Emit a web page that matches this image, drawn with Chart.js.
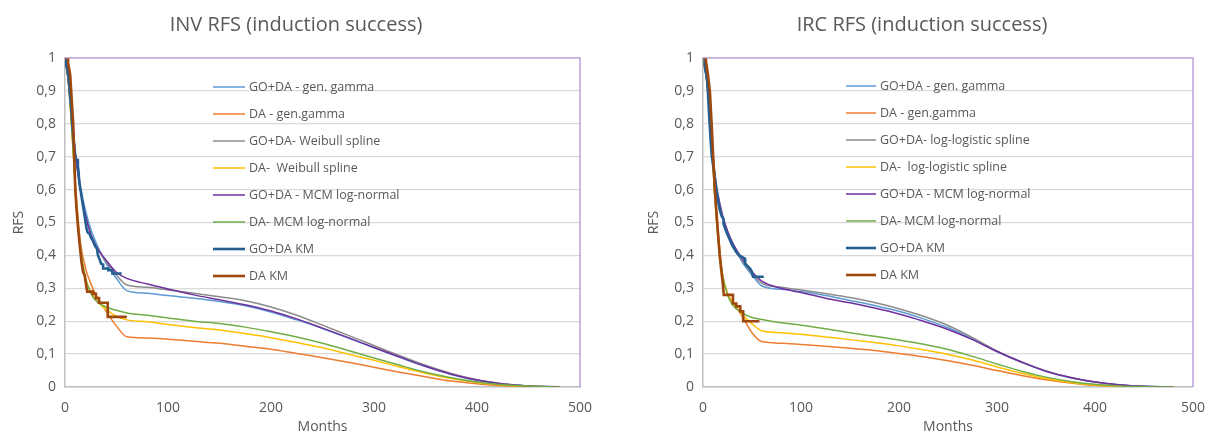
<!DOCTYPE html>
<html>
<head>
<meta charset="utf-8">
<script src="https://cdn.jsdelivr.net/npm/chart.js@4.4.1/dist/chart.umd.min.js"></script>
<style>
  body { margin: 0; background: #fff; }
  #wrap { position: relative; width: 1210px; height: 436px; }
  .box { position: absolute; top: 0; width: 605px; height: 436px; }
</style>
</head>
<body>
<div id="wrap">
  <div class="box" style="left:0"><canvas id="invChart"></canvas></div>
  <div class="box" style="left:605px"><canvas id="ircChart"></canvas></div>
</div>
<script>
const months = [0, 2.5, 5, 7.5, 10, 12.5, 15, 20, 25, 30, 40, 50, 60, 80, 100, 125, 150, 175, 200, 225, 250, 275, 300, 325, 350, 375, 400, 425, 450, 480];
const yTickLabels = ["0", "0,1", "0,2", "0,3", "0,4", "0,5", "0,6", "0,7", "0,8", "0,9", "1"];

// INV chart
const invGoGamma = [1, 0.95, 0.88, 0.8, 0.72, 0.66, 0.61, 0.535, 0.48, 0.44, 0.375, 0.33, 0.293, 0.285, 0.278, 0.27, 0.26, 0.247, 0.228, 0.204, 0.178, 0.149, 0.119, 0.09, 0.062, 0.038, 0.02, 0.009, 0.003, 0];
const invDaGamma = [1, 0.95, 0.86, 0.74, 0.62, 0.52, 0.44, 0.36, 0.315, 0.28, 0.23, 0.185, 0.153, 0.149, 0.145, 0.139, 0.133, 0.124, 0.115, 0.102, 0.089, 0.075, 0.06, 0.045, 0.031, 0.018, 0.01, 0.004, 0.001, 0];
const invGoWeib = [1, 0.95, 0.89, 0.8, 0.71, 0.65, 0.6, 0.52, 0.465, 0.43, 0.38, 0.34, 0.31, 0.303, 0.295, 0.285, 0.274, 0.262, 0.243, 0.218, 0.188, 0.157, 0.126, 0.095, 0.066, 0.041, 0.022, 0.01, 0.003, 0];
const invDaWeib = [1, 0.95, 0.86, 0.74, 0.6, 0.5, 0.42, 0.33, 0.29, 0.265, 0.235, 0.215, 0.204, 0.198, 0.19, 0.181, 0.173, 0.162, 0.15, 0.135, 0.119, 0.1, 0.081, 0.061, 0.042, 0.026, 0.014, 0.006, 0.002, 0];
const invGoMcm = [1, 0.95, 0.89, 0.8, 0.71, 0.65, 0.6, 0.52, 0.465, 0.43, 0.385, 0.348, 0.33, 0.313, 0.298, 0.28, 0.265, 0.25, 0.231, 0.207, 0.179, 0.15, 0.12, 0.091, 0.063, 0.039, 0.021, 0.009, 0.003, 0.001];
const invDaMcm = [1, 0.95, 0.87, 0.74, 0.6, 0.5, 0.42, 0.33, 0.285, 0.262, 0.243, 0.233, 0.225, 0.218, 0.21, 0.2, 0.193, 0.182, 0.168, 0.152, 0.133, 0.111, 0.088, 0.066, 0.045, 0.028, 0.015, 0.007, 0.003, 0];
const invGoKmX = [0, 1, 1, 2, 3, 4, 5, 6, 7, 8, 9, 10, 11, 12.5, 12.5, 13, 14, 15, 17, 19, 20, 21, 22, 24, 25, 27, 29, 31, 32, 34, 35, 37, 37, 42, 42, 46, 46, 55];
const invGoKmY = [1, 1, 0.98, 0.97, 0.95, 0.92, 0.88, 0.85, 0.8, 0.76, 0.72, 0.7, 0.69, 0.69, 0.67, 0.66, 0.62, 0.6, 0.56, 0.52, 0.5, 0.48, 0.47, 0.465, 0.455, 0.445, 0.43, 0.42, 0.4, 0.385, 0.375, 0.372, 0.36, 0.36, 0.355, 0.355, 0.345, 0.345];
const invDaKmX = [0, 3, 3, 5, 6, 8, 9, 10, 11, 12.5, 14, 16, 17.5, 19, 20, 21.5, 27, 27, 30, 30, 33, 33, 41.5, 41.5, 60];
const invDaKmY = [1, 1, 0.985, 0.95, 0.9, 0.8, 0.7, 0.6, 0.55, 0.49, 0.44, 0.38, 0.35, 0.34, 0.32, 0.29, 0.29, 0.283, 0.283, 0.27, 0.27, 0.256, 0.256, 0.213, 0.213];

// IRC chart
const ircGoGamma = [1, 0.96, 0.9, 0.8, 0.71, 0.64, 0.59, 0.52, 0.47, 0.435, 0.38, 0.34, 0.307, 0.297, 0.29, 0.278, 0.263, 0.248, 0.23, 0.207, 0.18, 0.146, 0.108, 0.075, 0.048, 0.028, 0.015, 0.006, 0.002, 0];
const ircDaGamma = [1, 0.96, 0.9, 0.8, 0.69, 0.58, 0.49, 0.34, 0.285, 0.26, 0.215, 0.165, 0.138, 0.133, 0.129, 0.124, 0.118, 0.111, 0.102, 0.092, 0.08, 0.066, 0.05, 0.035, 0.022, 0.012, 0.005, 0.002, 0.001, 0];
const ircGoLogl = [1, 0.96, 0.9, 0.8, 0.71, 0.64, 0.59, 0.52, 0.47, 0.437, 0.385, 0.345, 0.315, 0.303, 0.295, 0.284, 0.272, 0.257, 0.238, 0.215, 0.187, 0.15, 0.11, 0.076, 0.049, 0.029, 0.015, 0.006, 0.002, 0];
const ircDaLogl = [1, 0.96, 0.9, 0.8, 0.68, 0.56, 0.46, 0.34, 0.285, 0.255, 0.22, 0.192, 0.171, 0.165, 0.16, 0.152, 0.144, 0.135, 0.125, 0.113, 0.099, 0.082, 0.061, 0.042, 0.026, 0.014, 0.006, 0.002, 0.001, 0];
const ircGoMcm = [1, 0.96, 0.9, 0.79, 0.7, 0.63, 0.585, 0.52, 0.475, 0.44, 0.39, 0.35, 0.322, 0.3, 0.287, 0.27, 0.256, 0.24, 0.222, 0.2, 0.175, 0.144, 0.108, 0.076, 0.048, 0.029, 0.015, 0.007, 0.002, 0];
const ircDaMcm = [1, 0.96, 0.9, 0.8, 0.68, 0.56, 0.46, 0.34, 0.28, 0.25, 0.225, 0.211, 0.205, 0.195, 0.188, 0.177, 0.165, 0.154, 0.143, 0.13, 0.114, 0.093, 0.07, 0.048, 0.03, 0.017, 0.008, 0.003, 0.001, 0];
const ircGoKmX = [0, 2, 2, 4, 5, 6, 7, 8, 9, 11, 13, 15, 17, 19, 21, 21, 24, 27, 30, 34, 37, 43, 43, 48, 50, 51, 62];
const ircGoKmY = [1, 1, 0.97, 0.94, 0.9, 0.84, 0.79, 0.74, 0.7, 0.66, 0.61, 0.57, 0.54, 0.52, 0.51, 0.495, 0.47, 0.45, 0.43, 0.41, 0.4, 0.39, 0.375, 0.36, 0.35, 0.335, 0.335];
const ircDaKmX = [0, 3, 3, 5, 7, 8.8, 10.4, 12, 14.5, 17, 19, 20, 21.2, 30.6, 30.6, 34, 34, 38, 38, 41, 41, 57.6];
const ircDaKmY = [1, 1, 0.99, 0.95, 0.9, 0.8, 0.7, 0.6, 0.5, 0.4, 0.345, 0.32, 0.28, 0.28, 0.254, 0.254, 0.245, 0.245, 0.23, 0.23, 0.2, 0.2];

Chart.defaults.font.family = "'Open Sans', sans-serif";
Chart.defaults.color = "#595959";

function points(xs, ys) {
  return xs.map((x, i) => ({ x: x, y: ys[i] }));
}

function curve(label, ys, color) {
  return { label: label, data: points(months, ys), borderColor: color, borderWidth: 1.5, cubicInterpolationMode: "monotone" };
}

function km(label, xs, ys, color) {
  return { label: label, data: points(xs, ys), borderColor: color, borderWidth: 2.6, tension: 0 };
}

// title, legend and the purple plot border, drawn on the canvas
const decorPlugin = {
  id: "decor",
  afterDraw(chart) {
    const o = chart.options.plugins.decor;
    const ctx = chart.ctx;
    const a = chart.chartArea;
    ctx.save();
    ctx.strokeStyle = "#A98AD4";
    ctx.lineWidth = 1.2;
    ctx.beginPath();
    ctx.moveTo(a.left, a.top);
    ctx.lineTo(a.right, a.top);
    ctx.lineTo(a.right, a.bottom);
    ctx.stroke();

    ctx.fillStyle = "#595959";
    ctx.textBaseline = "middle";
    ctx.textAlign = "center";
    ctx.font = "20px 'Open Sans', sans-serif";
    ctx.fillText(o.title, o.titleX, 25);

    ctx.textAlign = "left";
    ctx.font = "12.5px 'Open Sans', sans-serif";
    chart.data.datasets.forEach((ds, i) => {
      const y = o.legendY + i * 27;
      ctx.strokeStyle = ds.borderColor;
      ctx.lineWidth = ds.borderWidth;
      ctx.beginPath();
      ctx.moveTo(o.legendX, y);
      ctx.lineTo(o.legendX + o.lineLen, y);
      ctx.stroke();
      ctx.fillText(ds.label, o.legendX + o.lineLen + 4, y);
    });
    ctx.restore();
  }
};

function createChart(id, datasets, o) {
  datasets.forEach((ds, i) => {
    ds.order = datasets.length - i;
    ds.pointRadius = 0;
    ds.fill = false;
  });
  return new Chart(document.getElementById(id), {
    type: "line",
    data: { datasets: datasets },
    plugins: [decorPlugin],
    options: {
      responsive: true,
      maintainAspectRatio: false,
      animation: false,
      layout: { padding: { left: 0, right: o.rightPad, top: 58, bottom: 0 } },
      scales: {
        x: {
          type: "linear",
          min: 0,
          max: 500,
          ticks: { stepSize: 100, font: { size: 14 }, padding: 5 },
          grid: { display: false },
          border: { color: "#BFBFBF", width: 1.5 },
          title: { display: true, text: "Months", font: { size: 14 }, padding: { top: 0, bottom: 1 } },
          afterFit: (s) => { s.height = 49; }
        },
        y: {
          min: 0,
          max: 1,
          ticks: { stepSize: 0.1, font: { size: 14 }, padding: 9, callback: (v, i) => yTickLabels[i] },
          grid: { color: "#D9D9D9", lineWidth: 1.3, drawTicks: false },
          border: { color: "#BFBFBF", width: 1.5 },
          title: { display: true, text: "RFS", font: { size: 14 }, padding: { top: o.yTitlePad, bottom: 0 } },
          afterFit: (s) => { s.width = o.yWidth; }
        }
      },
      plugins: {
        legend: { display: false },
        tooltip: { enabled: false },
        decor: o
      }
    }
  });
}

createChart("invChart", [
  curve("GO+DA - gen. gamma", invGoGamma, "#5B9BD5"),
  curve("DA - gen.gamma", invDaGamma, "#ED7D31"),
  curve("GO+DA- Weibull spline", invGoWeib, "#8C8C8C"),
  curve("DA-  Weibull spline", invDaWeib, "#FFC000"),
  curve("GO+DA - MCM log-normal", invGoMcm, "#7030A0"),
  curve("DA- MCM log-normal", invDaMcm, "#70AD47"),
  km("GO+DA KM", invGoKmX, invGoKmY, "#255E91"),
  km("DA KM", invDaKmX, invDaKmY, "#9E480E")
], { title: "INV RFS (induction success)", titleX: 296, legendX: 213, legendY: 87, lineLen: 32, rightPad: 25, yWidth: 65, yTitlePad: 11 });

createChart("ircChart", [
  curve("GO+DA - gen. gamma", ircGoGamma, "#5B9BD5"),
  curve("DA - gen.gamma", ircDaGamma, "#ED7D31"),
  curve("GO+DA- log-logistic spline", ircGoLogl, "#8C8C8C"),
  curve("DA-  log-logistic spline", ircDaLogl, "#FFC000"),
  curve("GO+DA - MCM log-normal", ircGoMcm, "#7030A0"),
  curve("DA- MCM log-normal", ircDaMcm, "#70AD47"),
  km("GO+DA KM", ircGoKmX, ircGoKmY, "#255E91"),
  km("DA KM", ircDaKmX, ircDaKmY, "#9E480E")
], { title: "IRC RFS (induction success)", titleX: 317, legendX: 241, legendY: 86, lineLen: 30, rightPad: 13, yWidth: 98, yTitlePad: 41 });
</script>
</body>
</html>
